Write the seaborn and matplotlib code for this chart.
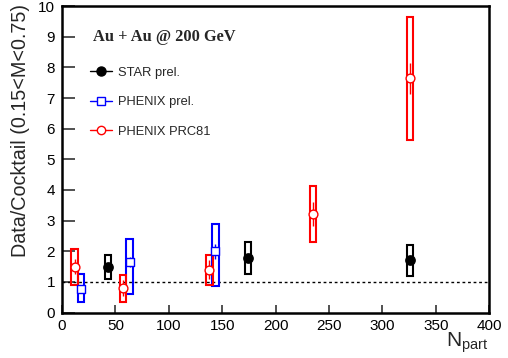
import matplotlib
matplotlib.use("Agg")
import matplotlib.pyplot as plt
from matplotlib.lines import Line2D
import seaborn as sns
import pandas as pd

# ---- data ----
star_x = [43, 174, 326]
star_y = [1.48, 1.78, 1.72]
star_sys_lo = [1.09, 1.26, 1.20]
star_sys_hi = [1.88, 2.30, 2.21]

phx_prel_x = [17.8, 63.3, 143.7]
phx_prel_y = [0.78, 1.65, 2.00]
phx_prel_stat = [0.0, 0.15, 0.25]
phx_prel_sys_lo = [0.36, 0.62, 0.87]
phx_prel_sys_hi = [1.27, 2.41, 2.88]

phx_prc_x = [11.8, 57.1, 137.9, 235.0, 325.8]
phx_prc_y = [1.50, 0.80, 1.40, 3.22, 7.64]
phx_prc_stat = [0.25, 0.25, 0.30, 0.40, 0.50]
phx_prc_sys_lo = [0.90, 0.35, 0.90, 2.29, 5.62]
phx_prc_sys_hi = [2.07, 1.23, 1.89, 4.14, 9.65]

x_ticks = [0, 50, 100, 150, 200, 250, 300, 350, 400]
y_ticks = [0, 1, 2, 3, 4, 5, 6, 7, 8, 9, 10]

sns.set_theme(style="ticks")
plt.rcParams['font.family'] = ['Liberation Sans', 'DejaVu Sans']
plt.rcParams['mathtext.fontset'] = 'custom'
plt.rcParams['mathtext.rm'] = 'Liberation Sans'
plt.rcParams['mathtext.it'] = 'Liberation Sans'

fig = plt.figure(figsize=(5.08, 3.58), dpi=100)
ax = fig.add_axes([0.122, 0.127, 0.841, 0.856])

box_w = 6.2

def draw_series(x, y, lo, hi, stat, color, marker, filled):
    ax.bar(x, [h - l for h, l in zip(hi, lo)], bottom=lo, width=box_w,
           fill=False, edgecolor=color, linewidth=1.5, zorder=2)
    if stat is not None:
        ax.errorbar(x, y, yerr=stat, fmt='none', ecolor=color,
                    elinewidth=1.0, capsize=0, zorder=3)
    df = pd.DataFrame({"x": x, "y": y})
    sns.scatterplot(data=df, x="x", y="y", ax=ax, marker=marker,
                    s=45 if filled else 40,
                    facecolor=color if filled else 'white',
                    edgecolor=color, linewidth=1.0, zorder=4, legend=False)

ax.axhline(1, color='black', linestyle=(0, (2, 2)), linewidth=1.0, zorder=1)

draw_series(star_x, star_y, star_sys_lo, star_sys_hi, None, 'black', 'o', True)
draw_series(phx_prel_x, phx_prel_y, phx_prel_sys_lo, phx_prel_sys_hi,
            phx_prel_stat, '#0000ff', 's', False)
draw_series(phx_prc_x, phx_prc_y, phx_prc_sys_lo, phx_prc_sys_hi,
            phx_prc_stat, '#ff0000', 'o', False)

ax.set_xlim(0, 400)
ax.set_ylim(0, 10)
ax.set_xticks(x_ticks)
ax.set_yticks(y_ticks)
ax.tick_params(axis='both', direction='in', labelsize=11, width=1.2,
               colors='#333333', labelcolor='black')
ax.tick_params(axis='y', length=9, pad=5)
ax.tick_params(axis='x', length=6, pad=5)
for s in ax.spines.values():
    s.set_linewidth(1.8)
    s.set_color('black')

ax.set_xlabel('')
ax.set_ylabel('Data/Cocktail (0.15<M<0.75)', fontsize=14.2)
ax.yaxis.set_label_coords(-0.074, 0.595)
fig.text(0.961, 0.031, r'N$_{\mathrm{part}}$', ha='right', va='baseline',
         fontsize=15)

ax.text(0.073, 0.899, 'Au + Au @ 200 GeV', transform=ax.transAxes,
        family=['Liberation Serif', 'DejaVu Serif'], fontweight='bold',
        fontsize=11.8, ha='left', va='center')

handles = [
    Line2D([], [], color='black', marker='o', markersize=6.5,
           markerfacecolor='black', linewidth=1.0),
    Line2D([], [], color='#0000ff', marker='s', markersize=6,
           markerfacecolor='white', linewidth=1.0),
    Line2D([], [], color='#ff0000', marker='o', markersize=6,
           markerfacecolor='white', linewidth=1.0),
]
labels = ['STAR prel.', 'PHENIX prel.', 'PHENIX PRC81']
ax.legend(handles, labels, loc='upper left', bbox_to_anchor=(0.038, 0.84),
          frameon=False, fontsize=9.3, handlelength=1.7, labelspacing=1.35,
          handletextpad=0.45)

fig.savefig('out.png', dpi=100)
